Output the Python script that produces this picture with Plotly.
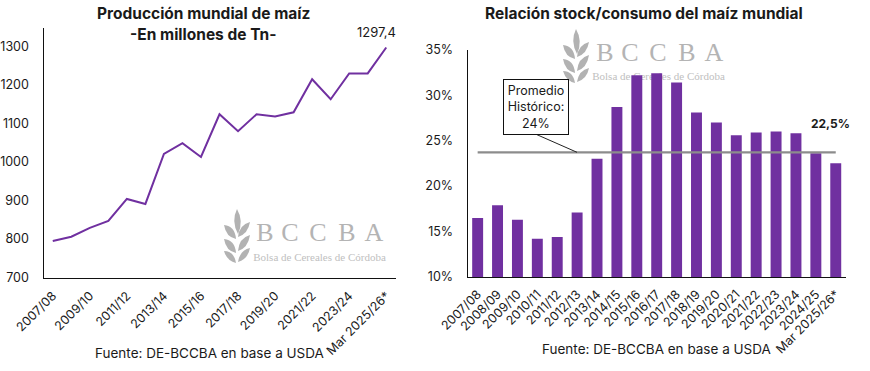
import plotly.graph_objects as go

left_categories = ["2007/08","2008/09","2009/10","2010/11","2011/12","2012/13","2013/14","2014/15","2015/16","2016/17","2017/18","2018/19","2019/20","2020/21","2021/22","2022/23","2023/24","2024/25","Mar 2025/26*"]
production = [795,806,829,847,904,891,1021,1049,1013,1124,1080,1124,1118,1129,1215,1163,1230,1230,1297.4]
left_ticks = left_categories[::2]
left_y_ticks = [700,800,900,1000,1100,1200,1300]

right_categories = left_categories
stock_ratio = [16.5,17.9,16.3,14.2,14.4,17.1,23.0,28.7,32.2,32.4,31.4,28.1,27.0,25.6,25.9,26.0,25.8,23.6,22.5]
historic_avg = [23.7]*len(right_categories)
right_y_ticks = [10,15,20,25,30,35]

W, H = 870, 371
PURPLE = "#7030A0"
FONT = "Inter, Open Sans, sans-serif"
TXT = "#1a1a1a"
SERIF = "Liberation Serif"

def px(x): return x/W
def py(y): return 1-y/H

fig = go.Figure()
fig.add_trace(go.Scatter(x=left_categories, y=production, mode="lines", xaxis="x", yaxis="y",
                         line=dict(color=PURPLE, width=2), showlegend=False, hoverinfo="skip"))

# watermark layer: a hidden pixel-sized subplot drawn below the bar chart
logo_letters = list("BCCBA")
logo_offsets = [0, 25, 53, 82, 109]
for ox, oy, sub_x, sub_y in [(265, 234, 319.5, 258), (605, 54, 658.5, 77.5)]:
    fig.add_trace(go.Scatter(x=[ox+d for d in logo_offsets], y=[oy]*5, text=logo_letters, mode="text", xaxis="x2", yaxis="y2",
                             textfont=dict(family=SERIF, size=26, color="#b4b4b4"), textposition="middle center",
                             showlegend=False, hoverinfo="skip"))
    fig.add_trace(go.Scatter(x=[sub_x], y=[sub_y], text=["Bolsa de Cereales de Córdoba"], mode="text", xaxis="x2", yaxis="y2",
                             textfont=dict(family=SERIF, size=11, color="#c0c0c0"), textposition="middle center",
                             showlegend=False, hoverinfo="skip"))

fig.add_trace(go.Bar(x=right_categories, y=stock_ratio, xaxis="x3", yaxis="y3",
                     marker=dict(color=PURPLE, line=dict(width=0)), showlegend=False))
fig.add_trace(go.Scatter(x=right_categories, y=historic_avg, mode="lines", xaxis="x3", yaxis="y3",
                         line=dict(color="#8c8c8c", width=2.2), showlegend=False))

axis_line = dict(showline=True, linecolor="#111", linewidth=1.2, showgrid=False, zeroline=False, ticks="", automargin=False)
tick_font = dict(family=FONT, size=12.5, color=TXT)

fig.update_layout(
    width=W, height=H, margin=dict(l=0,r=0,t=0,b=0), paper_bgcolor="white", plot_bgcolor="rgba(0,0,0,0)",
    bargap=0.45, font=dict(family=FONT, color=TXT),
    xaxis=dict(domain=[px(43.5),px(395.5)], anchor="y", type="category", categoryorder="array", categoryarray=left_categories,
               range=[-0.5,18.5], tickmode="array", tickvals=left_ticks, tickangle=-45, tickfont=tick_font, ticklabelstandoff=5, **axis_line),
    yaxis=dict(domain=[py(277.5),py(28)], anchor="x", range=[700,1348], tickmode="array", tickvals=left_y_ticks,
               tickfont=tick_font, ticklabelstandoff=11, **axis_line),
    xaxis2=dict(domain=[0,1], anchor="y2", range=[0,W], visible=False, automargin=False),
    yaxis2=dict(domain=[0,1], anchor="x2", range=[H,0], visible=False, automargin=False),
    xaxis3=dict(domain=[px(467.7),px(845.7)], anchor="y3", type="category", categoryorder="array", categoryarray=right_categories,
               range=[-0.5,18.5], tickangle=-45, tickfont=tick_font, dtick=1, ticklabelstandoff=4, **axis_line),
    yaxis3=dict(domain=[py(277),py(49.7)], anchor="x3", range=[10,35], tickmode="array", tickvals=right_y_ticks,
               ticktext=[f"{v}%" for v in right_y_ticks], tickfont=tick_font, ticklabelstandoff=11, **axis_line),
)

def text(x, y, s, size=12, bold=False, color=TXT, family=FONT, **kw):
    fig.add_annotation(xref="paper", yref="paper", x=px(x), y=py(y), text=f"<b>{s}</b>" if bold else s, showarrow=False,
                       xanchor="center", yanchor="middle", font=dict(size=size, color=color, family=family), **kw)

text(203.5, 14, "Producción mundial de maíz", 15.5, True)
text(203.5, 34, "-En millones de Tn-", 15.5, True)
text(376.5, 32, "1297,4", 13)
text(209, 353, "Fuente: DE-BCCBA en base a USDA", 13.5)
text(644, 14, "Relación stock/consumo del maíz mundial", 15.5, True)
text(830.5, 123, "22,5%", 12, True)
text(656, 349, "Fuente: DE-BCCBA en base a USDA", 13.5)
text(536.3, 107.3, "Promedio<br>Histórico:<br>24%", 12.5, bgcolor="white", bordercolor="#111", borderwidth=1, borderpad=3, width=58)

shapes = [dict(type="line", xref="paper", yref="paper", x0=px(537), y0=py(134.7), x1=px(577), y1=py(152.3), line=dict(color="#222", width=1))]

def logo(ox, oy):
    G = "#b2b2b2"
    def P(d):
        out=[]
        for tok in d.split():
            if "," in tok:
                a,b = tok.split(",")
                out.append(f"{px(ox+float(a))},{py(oy+float(b))}")
            else:
                out.append(tok)
        return " ".join(out)
    leaves = [
      "M 13,0 Q 20,12 14,25 Q 7,12 13,0 Z",
      "M 0,16 Q 11,17 12,30 Q 2,28 0,16 Z",
      "M 26,13 Q 15,16 14,28 Q 24,25 26,13 Z",
      "M 0,30 Q 11,31 12,44 Q 2,42 0,30 Z",
      "M 26,26 Q 15,29 14,42 Q 24,39 26,26 Z",
      "M 0,42 Q 10,42 12,54 Q 3,52 0,42 Z",
      "M 26,39 Q 16,41 14,53 Q 24,50 26,39 Z",
    ]
    for l in leaves:
        shapes.append(dict(type="path", xref="paper", yref="paper", path=P(l), fillcolor=G, line=dict(width=0), layer="below"))

logo(224, 209)
logo(563, 29)

fig.update_layout(shapes=shapes)
fig.write_html("out.html", config=dict(displayModeBar=False), post_script="document.body.style.margin='0';document.body.style.overflow='hidden';")
